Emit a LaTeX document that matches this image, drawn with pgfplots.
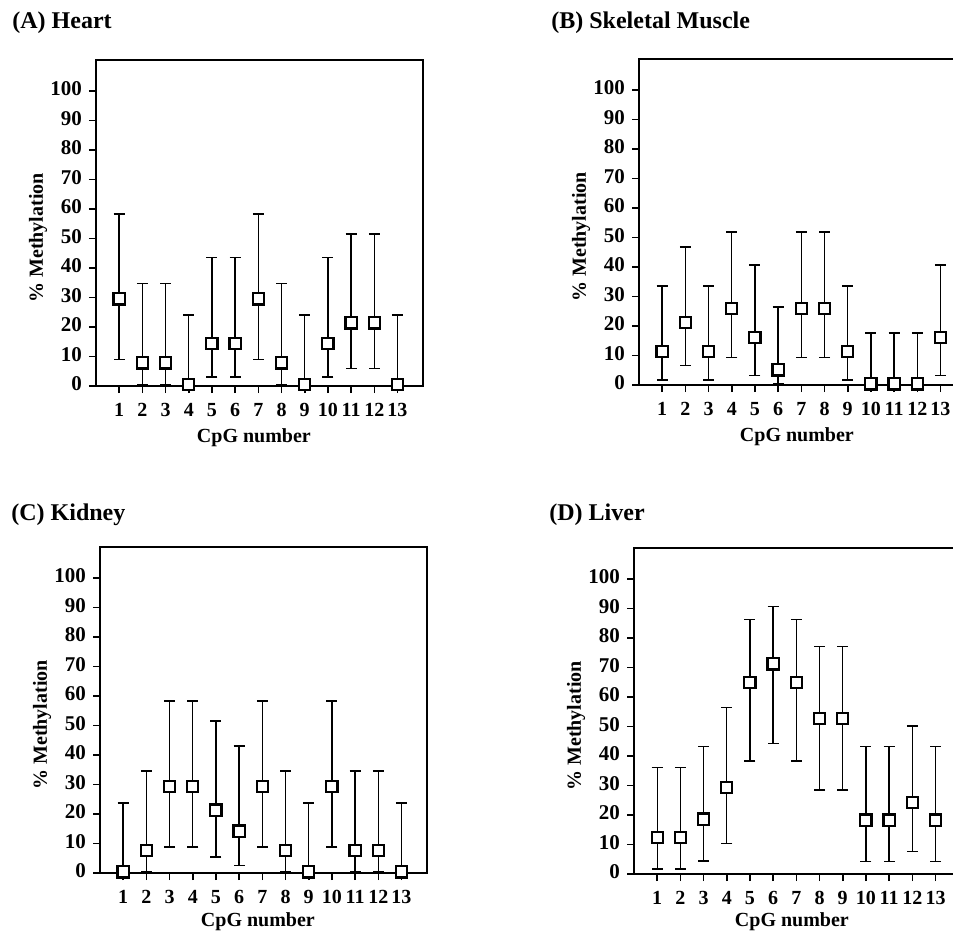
\documentclass[border=0pt]{standalone}
\usepackage{fontspec}
\setmainfont{Liberation Serif}
\usepackage{pgfplots}
\usepackage{pgfplotstable}
\pgfplotsset{compat=1.18}

% x = CpG number, y = % methylation, lo/hi = ends of the error bar
\pgfplotstableread{
x y lo hi
1 29.5 9.0 58.3
2 7.8 0.3 34.8
3 7.8 0.3 34.8
4 0.5 0 24.0
5 14.4 3.0 43.6
6 14.4 3.0 43.6
7 29.5 9.0 58.3
8 7.8 0.3 34.8
9 0.5 0 24.0
10 14.4 3.0 43.6
11 21.4 5.9 51.5
12 21.4 5.9 51.5
13 0.5 0 24.0
}\tabheart

\pgfplotstableread{
x y lo hi
1 11.3 1.7 33.6
2 21.2 6.6 46.8
3 11.3 1.7 33.6
4 26.0 9.3 51.8
5 16.2 3.2 40.7
6 5.1 0.3 26.5
7 26.0 9.3 51.8
8 26.0 9.3 51.8
9 11.3 1.7 33.6
10 0.4 0 17.6
11 0.4 0 17.6
12 0.4 0 17.6
13 16.2 3.2 40.7
}\tabmuscle

\pgfplotstableread{
x y lo hi
1 0.4 0 23.7
2 7.7 0.3 34.5
3 29.4 8.8 58.3
4 29.4 8.8 58.3
5 21.3 5.4 51.6
6 14.2 2.6 43.1
7 29.4 8.8 58.3
8 7.7 0.3 34.5
9 0.4 0 23.7
10 29.4 8.8 58.3
11 7.7 0.3 34.5
12 7.7 0.3 34.5
13 0.4 0 23.7
}\tabkidney

\pgfplotstableread{
x y lo hi
1 12.4 1.7 36.1
2 12.4 1.7 36.1
3 18.6 4.5 43.2
4 29.3 10.4 56.4
5 65.0 38.3 86.2
6 71.2 44.3 90.7
7 65.0 38.3 86.2
8 52.8 28.5 77.1
9 52.8 28.5 77.1
10 18.3 4.2 43.2
11 18.3 4.2 43.2
12 24.3 7.6 50.2
13 18.3 4.2 43.2
}\tabliver

\pgfplotsset{
  cpg/.style={
    scale only axis, width=163.5pt, height=163pt,
    anchor=south west,
    xmin=0, xmax=14.1, ymin=0, ymax=110.5,
    axis line style={line width=1pt},
    xtick={1,...,13}, ytick={0,10,...,100},
    tick pos=left, tick align=outside,
    major tick length=3.5pt,
    every tick/.style={black, line width=0.8pt},
    /pgf/number format/assume math mode=true,
    typeset ticklabels with strut,
    yticklabel style={font=\bfseries\fontsize{10.5}{12}\selectfont},
    xticklabel style={font=\bfseries\fontsize{10}{12}\selectfont},
    xlabel={CpG number}, ylabel={\% Methylation},
    label style={font=\bfseries\fontsize{10}{12}\selectfont},
    xlabel style={at={(axis description cs:0.483,#1)}, anchor=center},
    ylabel style={at={(axis description cs:-0.177,0.454)}, anchor=center},
    clip=false,
  },
  pts/.style={
    black, only marks, mark=square*, mark size=2.8pt,
    mark options={fill=white, draw=black, line width=1.1pt},
    error bars/.cd, y dir=both, y explicit,
    error bar style={line width=0.7pt, black},
    error mark options={rotate=90, line width=0.8pt, mark size=2.75pt, black},
  },
}
\newcommand{\cpgplot}[1]{%
  \addplot[pts] table[x=x, y=y,
    y error plus expr=\thisrow{hi}-\thisrow{y},
    y error minus expr=\thisrow{y}-\thisrow{lo}] {#1};}

\begin{document}
\begin{tikzpicture}
\begin{axis}[cpg=-0.158, at={(48pt,273.5pt)}]
\cpgplot{\tabheart}
\end{axis}
\begin{axis}[cpg=-0.16, at={(319.5pt,274pt)}]
\cpgplot{\tabmuscle}
\end{axis}
\begin{axis}[cpg=-0.149, at={(50pt,30pt)}]
\cpgplot{\tabkidney}
\end{axis}
\begin{axis}[cpg=-0.145, at={(317pt,29.5pt)}]
\cpgplot{\tabliver}
\end{axis}

\begin{scope}[every node/.style={font=\bfseries\fontsize{12}{14}\selectfont, anchor=base west, inner sep=0pt}]
\node at (6pt,452pt) {(A) Heart};
\node at (275.5pt,452pt) {(B) Skeletal Muscle};
\node at (5.5pt,206.5pt) {(C) Kidney};
\node at (274.5pt,206.5pt) {(D) Liver};
\end{scope}

\pgfresetboundingbox
\path[use as bounding box] (0,0) rectangle (476.5pt,466.5pt);
\end{tikzpicture}
\end{document}
